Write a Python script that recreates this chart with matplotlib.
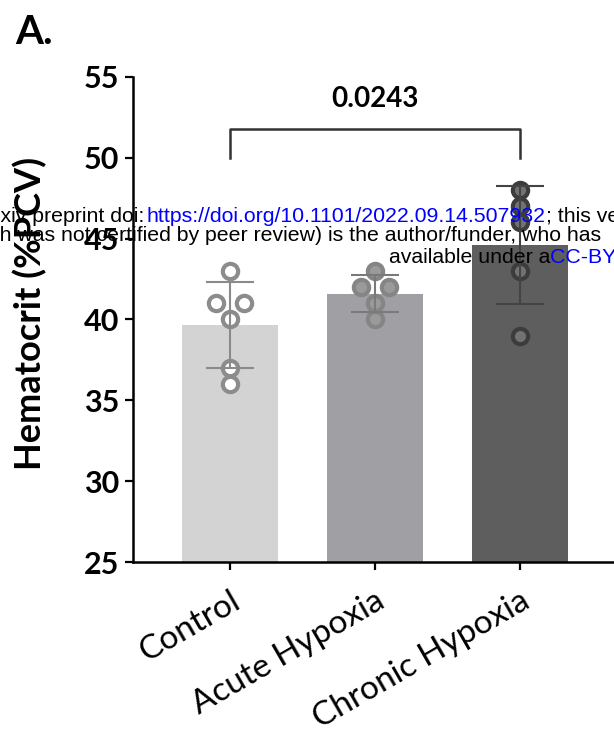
import matplotlib
matplotlib.use("Agg")
import matplotlib.pyplot as plt
import numpy as np

# data
groups = ["Control", "Acute Hypoxia", "Chronic Hypoxia"]
control = [43, 41, 41, 40, 37, 36]
acute = [43, 42, 42, 41, 40]
chronic = [48, 47, 46, 43, 39]
p_value = "0.0243"

bar_colors = ["#d3d3d3", "#a0a0a4", "#5e5e5e"]
edge_colors = ["#8c8c8c", "#858585", "#3c3c3c"]
face_colors = ["#ffffff", "#9a9a9a", "#727272"]
err_colors = ["#8a8a8a", "#7a7a7a", "#444444"]

plt.rcParams['font.family'] = ['Lato', 'DejaVu Sans']

fig = plt.figure(figsize=(6.14, 7.37), dpi=100)
ax = fig.add_axes([133/614, 1 - 562/737, 484/614, 485/737])

data = [control, acute, chronic]
for i, vals in enumerate(data):
    vals = np.array(vals, dtype=float)
    m = vals.mean()
    sd = vals.std(ddof=1)
    ax.bar(i, m - 25, bottom=25, width=0.66, color=bar_colors[i], zorder=1)
    # spread repeated values sideways
    xs = []
    for j, v in enumerate(vals):
        same = [k for k, w in enumerate(vals) if w == v]
        n = len(same)
        pos = same.index(j)
        xs.append(i + (pos - (n - 1) / 2) * 0.195)
    ax.plot(xs, vals, 'o', ms=11, mew=3, mfc=face_colors[i], mec=edge_colors[i],
            zorder=2, clip_on=False)
    ax.errorbar(i, m, yerr=sd, color=err_colors[i], capsize=17, elinewidth=1.5,
                capthick=1.5, zorder=3)

ax.set_xlim(-0.669, 2.669)
ax.set_ylim(25, 55)
ax.set_yticks([25, 30, 35, 40, 45, 50, 55])
ax.set_xticks(range(3))
ax.set_xticklabels(groups, rotation=30, ha='right', rotation_mode='anchor',
                   fontsize=24)
for lab in ax.get_yticklabels():
    lab.set_fontweight('bold')
    lab.set_fontsize(22)
ax.tick_params(axis='both', direction='out', length=6, width=1.6, pad=4)
ax.tick_params(axis='x', pad=11)
for s in ['top', 'right']:
    ax.spines[s].set_visible(False)
for s in ['left', 'bottom']:
    ax.spines[s].set_linewidth(1.8)

# significance bracket
ax.plot([0, 0, 2, 2], [50, 51.8, 51.8, 50], color="#333333", lw=1.8,
        clip_on=False)
ax.text(1, 52.85, p_value, ha='center', va='bottom', fontsize=20,
        fontweight='bold')

fig.text(30/614, 1 - 313/737, "Hematocrit (%PCV)", rotation=90, ha='center',
         va='center', fontsize=26, fontweight='bold')
fig.text(15/614, 1 - 44/737, "A.", fontsize=29, fontweight='bold',
         ha='left', va='baseline')

# preprint watermark lying over the figure
wm = dict(family=['Liberation Sans', 'DejaVu Sans'], fontsize=15.3)
t = fig.text(147/614, 1 - 222/737, "https://doi.org/10.1101/2022.09.14.507932",
             ha='left', va='baseline', color='blue', **wm)
fig.text(144/614, 1 - 222/737, "bioRxiv preprint doi:", ha='right',
         va='baseline', **wm)
fig.add_artist(plt.Annotation("; this version posted September 16, 2022.",
                              xy=(1, 0), xycoords=t, va='bottom', ha='left', **wm))
fig.text(601/614, 1 - 241/737,
         "preprint (which was not certified by peer review) is the author/funder, who has",
         ha='right', va='baseline', **wm)
t3 = fig.text(389/614, 1 - 263/737, "available under a", ha='left',
              va='baseline', **wm)
fig.add_artist(plt.Annotation("CC-BY 4.0 International license", xy=(1, 0),
                              xycoords=t3, va='bottom', ha='left', color='blue',
                              **wm))

fig.savefig("out.png", dpi=100)
